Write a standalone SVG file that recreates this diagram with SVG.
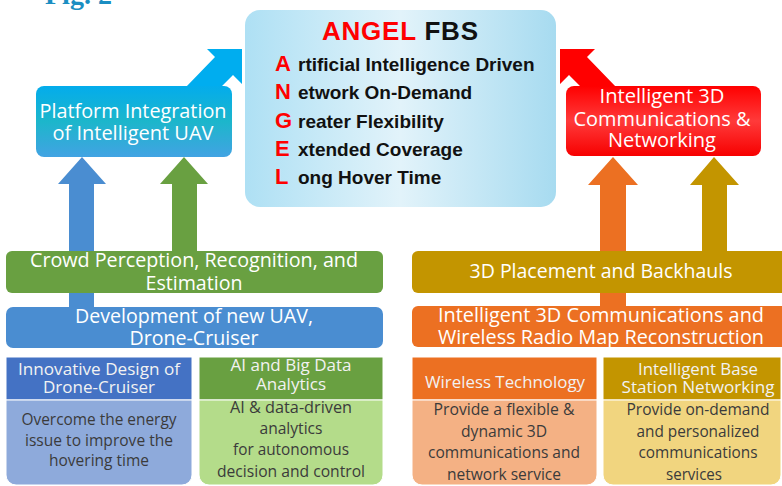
<svg xmlns="http://www.w3.org/2000/svg" width="782" height="486" viewBox="0 0 782 486">
  <defs>
    <linearGradient id="gAngel" x1="0" y1="0" x2="1" y2="0">
      <stop offset="0" stop-color="#aee0f4"/>
      <stop offset="0.5" stop-color="#e2f3fa"/>
      <stop offset="1" stop-color="#a7dbf0"/>
    </linearGradient>
    <linearGradient id="gPlat" x1="0" y1="0" x2="0" y2="1">
      <stop offset="0" stop-color="#03acec"/>
      <stop offset="0.5" stop-color="#1cb6cb"/>
      <stop offset="1" stop-color="#42a3e3"/>
    </linearGradient>
    <linearGradient id="gRed" x1="0" y1="0" x2="0" y2="1">
      <stop offset="0" stop-color="#ff0000"/>
      <stop offset="0.5" stop-color="#ff3a3a"/>
      <stop offset="1" stop-color="#f70000"/>
    </linearGradient>
    <style>
      .lbl { font-family: "Open Sans", "Noto Sans", sans-serif; font-size: 20px; fill: #ffffff; text-anchor: middle; }
      .hdr { font-family: "Open Sans", "Noto Sans", sans-serif; font-size: 16.5px; fill: #f2f2f2; text-anchor: middle; }
      .bdy { font-family: "Open Sans", "Noto Sans", sans-serif; font-size: 16px; fill: #3b3b3b; text-anchor: middle; }
      .ltr { font-family: "Liberation Sans", Arial, sans-serif; font-weight: bold; font-size: 22px; fill: #ff0000; }
      .itm { font-family: "Liberation Sans", Arial, sans-serif; font-weight: bold; font-size: 19px; fill: #111111; }
      .card { stroke: #ffffff; stroke-width: 1; }
    </style>
  </defs>

  <rect x="0" y="0" width="782" height="486" fill="#ffffff"/>

  <text x="45" y="4" font-family="Liberation Serif, serif" font-weight="bold" font-size="28" fill="#1b8ec2">Fig. 2</text>

  <g id="connectors">
    <polygon points="186,87 215,57 207,49 242,49 242,84 233,75 221,87" fill="#00adef"/>
    <polygon points="616,87 587,57 595,49 560,49 560,84 569,75 581,87" fill="#ff0000"/>
    <polygon points="82,157 106,184 94,184 94,308 69,308 69,184 58,184" fill="#4a8dd1"/>
    <polygon points="184,157 208,184 197,184 197,252 172,252 172,184 160,184" fill="#69a041"/>
    <polygon points="613,157 638,185 626,185 626,307 600,307 600,185 588,185" fill="#ec7022"/>
    <polygon points="714,157 739,185 727,185 727,252 702,252 702,185 690,185" fill="#c39500"/>
  </g>

  <g id="angel">
    <rect x="245" y="10" width="311" height="197" rx="15" fill="url(#gAngel)"/>
    <text x="322" y="40" font-family="Liberation Sans, Arial, sans-serif" font-weight="bold" font-size="26" textLength="156" lengthAdjust="spacing"><tspan fill="#ff0000">ANGEL</tspan><tspan fill="#111111"> FBS</tspan></text>
    <text class="ltr" x="275" y="71">A</text><text class="itm" x="298" y="71">rtificial Intelligence Driven</text>
    <text class="ltr" x="275" y="99">N</text><text class="itm" x="298" y="99">etwork On-Demand</text>
    <text class="ltr" x="275" y="128">G</text><text class="itm" x="298" y="128">reater Flexibility</text>
    <text class="ltr" x="275" y="156">E</text><text class="itm" x="298" y="156">xtended Coverage</text>
    <text class="ltr" x="275" y="184">L</text><text class="itm" x="298" y="184">ong Hover Time</text>
  </g>

  <g id="platform">
    <rect x="36" y="86" width="196" height="71" rx="8" fill="url(#gPlat)"/>
    <text class="lbl" x="133" y="118" textLength="187" lengthAdjust="spacingAndGlyphs">Platform Integration</text>
    <text class="lbl" x="133" y="140" textLength="161" lengthAdjust="spacingAndGlyphs">of Intelligent UAV</text>
  </g>

  <g id="intelligent3d">
    <rect x="566" y="86" width="195" height="70" rx="8" fill="url(#gRed)"/>
    <text class="lbl" x="662" y="103" textLength="125" lengthAdjust="spacingAndGlyphs">Intelligent 3D</text>
    <text class="lbl" x="662" y="126" textLength="177" lengthAdjust="spacingAndGlyphs">Communications &amp;</text>
    <text class="lbl" x="662" y="147" textLength="108" lengthAdjust="spacingAndGlyphs">Networking</text>
  </g>

  <g id="crowd">
    <rect x="6" y="251" width="377" height="42" rx="6" fill="#69a041"/>
    <text class="lbl" x="194" y="267" textLength="328" lengthAdjust="spacingAndGlyphs">Crowd Perception, Recognition, and</text>
    <text class="lbl" x="194" y="290" textLength="97" lengthAdjust="spacingAndGlyphs">Estimation</text>
  </g>

  <g id="development">
    <rect x="6" y="307" width="377" height="41" rx="7" fill="#4a8dd1"/>
    <text class="lbl" x="194" y="323" textLength="238" lengthAdjust="spacingAndGlyphs">Development of new UAV,</text>
    <text class="lbl" x="194" y="345" textLength="129" lengthAdjust="spacingAndGlyphs">Drone-Cruiser</text>
  </g>

  <g id="placement">
    <rect x="412" y="251" width="380" height="42" rx="6" fill="#c39500"/>
    <text class="lbl" x="601" y="278" textLength="263" lengthAdjust="spacingAndGlyphs">3D Placement and Backhauls</text>
  </g>

  <g id="radiomap">
    <rect x="412" y="306" width="380" height="41" rx="6" fill="#ec7022"/>
    <text class="lbl" x="601" y="322" textLength="326" lengthAdjust="spacingAndGlyphs">Intelligent 3D Communications and</text>
    <text class="lbl" x="601" y="344" textLength="326" lengthAdjust="spacingAndGlyphs">Wireless Radio Map Reconstruction</text>
  </g>

  <g id="card-design">
    <rect class="card" x="6" y="357" width="186" height="43" fill="#4472c4"/>
    <path class="card" d="M6,400 H192 V475 A10,10 0 0 1 182,485 H16 A10,10 0 0 1 6,475 Z" fill="#8eaadb"/>
    <text class="hdr" x="99" y="375" textLength="162" lengthAdjust="spacingAndGlyphs">Innovative Design of</text>
    <text class="hdr" x="99" y="393" textLength="112" lengthAdjust="spacingAndGlyphs">Drone-Cruiser</text>
    <text class="bdy" x="99" y="425" textLength="155" lengthAdjust="spacingAndGlyphs">Overcome the energy</text>
    <text class="bdy" x="99" y="446" textLength="148" lengthAdjust="spacingAndGlyphs">issue to improve the</text>
    <text class="bdy" x="99" y="466" textLength="100" lengthAdjust="spacingAndGlyphs">hovering time</text>
  </g>

  <g id="card-ai">
    <rect class="card" x="199" y="357" width="184" height="43" fill="#69a041"/>
    <path class="card" d="M199,400 H383 V475 A10,10 0 0 1 373,485 H209 A10,10 0 0 1 199,475 Z" fill="#b4dc8a"/>
    <text class="hdr" x="291" y="371" textLength="121" lengthAdjust="spacingAndGlyphs">AI and Big Data</text>
    <text class="hdr" x="291" y="390" textLength="70" lengthAdjust="spacingAndGlyphs">Analytics</text>
    <text class="bdy" x="291" y="413" textLength="122" lengthAdjust="spacingAndGlyphs">AI &amp; data-driven</text>
    <text class="bdy" x="291" y="434" textLength="63" lengthAdjust="spacingAndGlyphs">analytics</text>
    <text class="bdy" x="291" y="455" textLength="116" lengthAdjust="spacingAndGlyphs">for autonomous</text>
    <text class="bdy" x="291" y="477" textLength="148" lengthAdjust="spacingAndGlyphs">decision and control</text>
  </g>

  <g id="card-wireless">
    <rect class="card" x="412" y="357" width="185" height="43" fill="#ec7022"/>
    <path class="card" d="M412,400 H597 V475 A10,10 0 0 1 587,485 H422 A10,10 0 0 1 412,475 Z" fill="#f4b184"/>
    <text class="hdr" x="505" y="388" textLength="160" lengthAdjust="spacingAndGlyphs">Wireless Technology</text>
    <text class="bdy" x="504" y="415" textLength="141" lengthAdjust="spacingAndGlyphs">Provide a flexible &amp;</text>
    <text class="bdy" x="504" y="437" textLength="86" lengthAdjust="spacingAndGlyphs">dynamic 3D</text>
    <text class="bdy" x="504" y="458" textLength="152" lengthAdjust="spacingAndGlyphs">communications and</text>
    <text class="bdy" x="504" y="480" textLength="114" lengthAdjust="spacingAndGlyphs">network service</text>
  </g>

  <g id="card-basestation">
    <rect class="card" x="603" y="357" width="178" height="43" fill="#c39500"/>
    <path class="card" d="M603,400 H781 V475 A10,10 0 0 1 771,485 H613 A10,10 0 0 1 603,475 Z" fill="#f1d57f"/>
    <text class="hdr" x="698" y="375" textLength="120" lengthAdjust="spacingAndGlyphs">Intelligent Base</text>
    <text class="hdr" x="698" y="393" textLength="153" lengthAdjust="spacingAndGlyphs">Station Networking</text>
    <text class="bdy" x="698" y="415" textLength="143" lengthAdjust="spacingAndGlyphs">Provide on-demand</text>
    <text class="bdy" x="698" y="437" textLength="123" lengthAdjust="spacingAndGlyphs">and personalized</text>
    <text class="bdy" x="698" y="458" textLength="119" lengthAdjust="spacingAndGlyphs">communications</text>
    <text class="bdy" x="694" y="480" textLength="56" lengthAdjust="spacingAndGlyphs">services</text>
  </g>
</svg>
